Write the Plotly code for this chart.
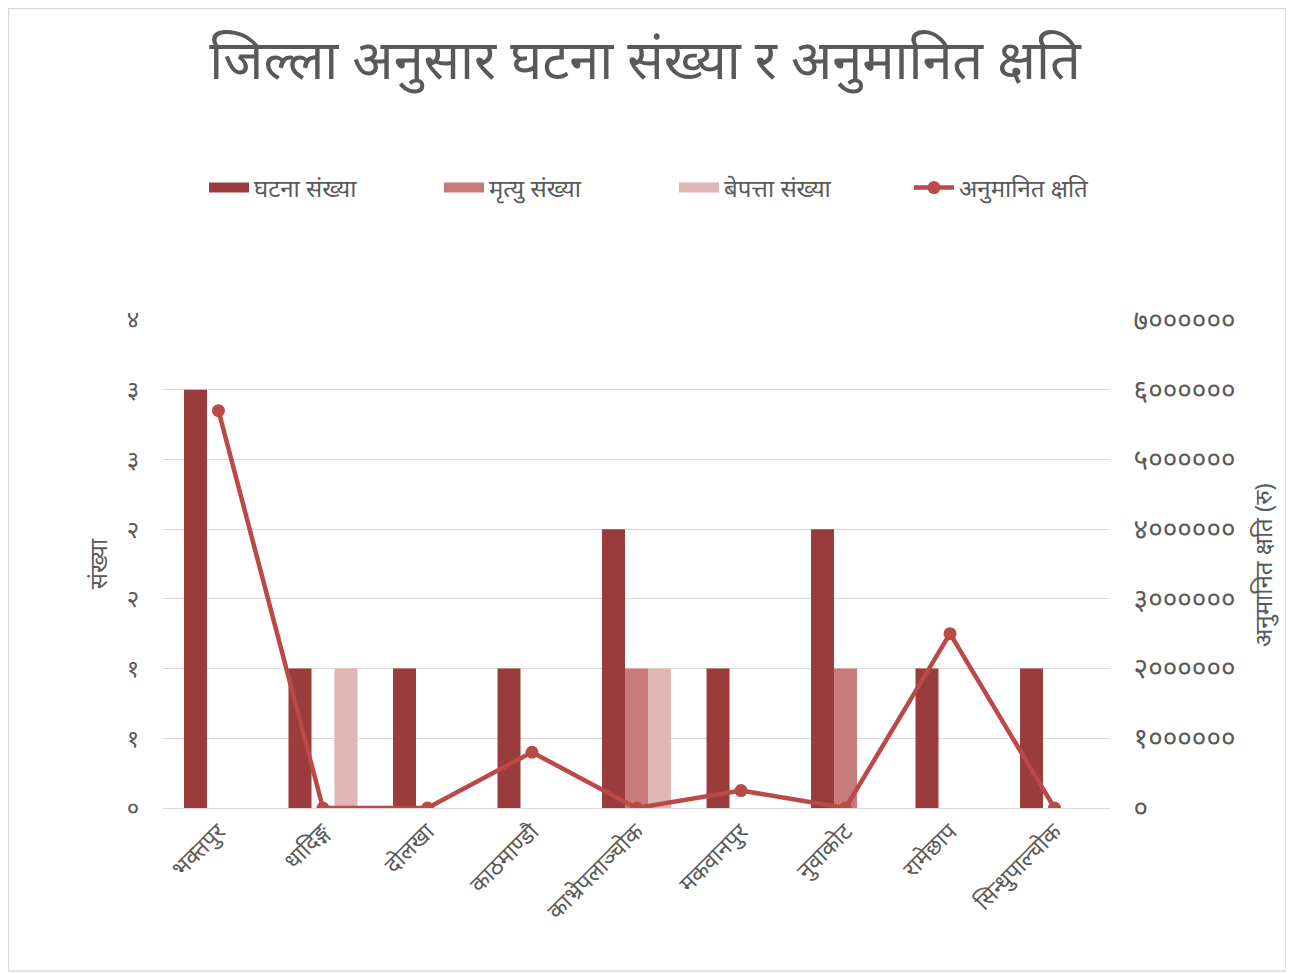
import plotly.graph_objects as go

districts = ["भक्तपुर", "धादिङ्ग", "दोलखा", "काठमाण्डौ", "काभ्रेपलाञ्चोक",
             "मकवानपुर", "नुवाकोट", "रामेछाप", "सिन्धुपाल्चोक"]
incidents = [3, 1, 1, 1, 2, 1, 2, 1, 1]
deaths = [0, 0, 0, 0, 1, 0, 1, 0, 0]
missing = [0, 1, 0, 0, 1, 0, 0, 0, 0]
loss = [5700000, 0, 0, 800000, 0, 250000, 0, 2500000, 0]

left_tickvals = [0, 0.5, 1, 1.5, 2, 2.5, 3, 3.5]
left_ticktext = ["०", "१", "१", "२", "२", "३", "३", "४"]
right_tickvals = [0, 1000000, 2000000, 3000000, 4000000, 5000000, 6000000, 7000000]
right_ticktext = ["०", "१००००००", "२००००००", "३००००००", "४००००००",
                  "५००००००", "६००००००", "७००००००"]

bar_names = ["घटना संख्या", "मृत्यु संख्या", "बेपत्ता संख्या"]
bar_colors = ["#9A3B3C", "#C97B7B", "#E0B5B6"]
line_name = "अनुमानित क्षति"
line_color = "#B94A48"

txt = "#595959"
font_fam = "Noto Sans, sans-serif"

W, H = 1286, 966
L, R, T, B = 155, 184, 312, 166
PW, PH = W - L - R, H - T - B

fig = go.Figure()
for name, vals, col in zip(bar_names, [incidents, deaths, missing], bar_colors):
    fig.add_trace(go.Bar(x=districts, y=vals, name=name, showlegend=False,
                         marker=dict(color=col, line=dict(width=0))))
# legend-only entries with wide rectangular swatches
for name, col in zip(bar_names, bar_colors):
    fig.add_trace(go.Scatter(x=[None], y=[None], name=name, mode="lines",
                             line=dict(color=col, width=14), legendrank=1))
fig.add_trace(go.Scatter(x=districts, y=loss, name=line_name, yaxis="y2",
                         mode="lines+markers", legendrank=2,
                         line=dict(color=line_color, width=4.5),
                         marker=dict(color=line_color, size=13)))

fig.update_layout(
    width=W, height=H,
    paper_bgcolor="white", plot_bgcolor="white",
    font=dict(family=font_fam, color=txt, size=18),
    title=dict(text="जिल्ला अनुसार घटना संख्या र अनुमानित क्षति",
               x=(645 - 8) / W, xanchor="center", y=1 - 52 / H, yanchor="middle",
               font=dict(size=54, color=txt)),
    barmode="group", bargap=0.34, bargroupgap=0,
    margin=dict(l=L, r=R, t=T, b=B, autoexpand=False),
    legend=dict(orientation="h", x=(196 - L) / PW, xanchor="left",
                y=(PH + T - 180) / PH, yanchor="middle",
                font=dict(size=24, color=txt), itemwidth=40,
                entrywidth=180, entrywidthmode="pixels",
                traceorder="normal"),
    xaxis=dict(tickangle=-45, showgrid=False, showline=True,
               linecolor="#D9D9D9", linewidth=1, ticks="",
               tickfont=dict(size=23, color=txt)),
    yaxis=dict(range=[0, 3.5], tickvals=left_tickvals, ticktext=left_ticktext,
               showgrid=True, gridcolor="#D9D9D9", gridwidth=1,
               zeroline=False, ticks="outside", ticklen=18, tickcolor="white",
               tickfont=dict(size=24, color=txt),
               title=dict(text="संख्या", font=dict(size=24, color=txt), standoff=12)),
    yaxis2=dict(range=[0, 7000000], tickvals=right_tickvals, ticktext=right_ticktext,
                overlaying="y", side="right", showgrid=False, zeroline=False,
                ticks="outside", ticklen=17, tickcolor="white",
                tickfont=dict(size=28, color=txt)),
    annotations=[dict(text="अनुमानित क्षति (रु)", textangle=-90,
                      xref="paper", yref="paper",
                      x=(1262 - 8 - L) / PW, y=(PH + T - 557) / PH,
                      xanchor="center", yanchor="middle", showarrow=False,
                      font=dict(size=24, color=txt))],
    shapes=[dict(type="rect", xref="paper", yref="paper",
                 x0=-L / PW + 0.5 / PW, x1=(1278 - L) / PW,
                 y0=-(963 - (T + PH)) / PH, y1=(T + PH - 0.5) / PH,
                 line=dict(color="#D9D9D9", width=1.5), fillcolor="rgba(0,0,0,0)")],
)

fig.write_html("out.html")
